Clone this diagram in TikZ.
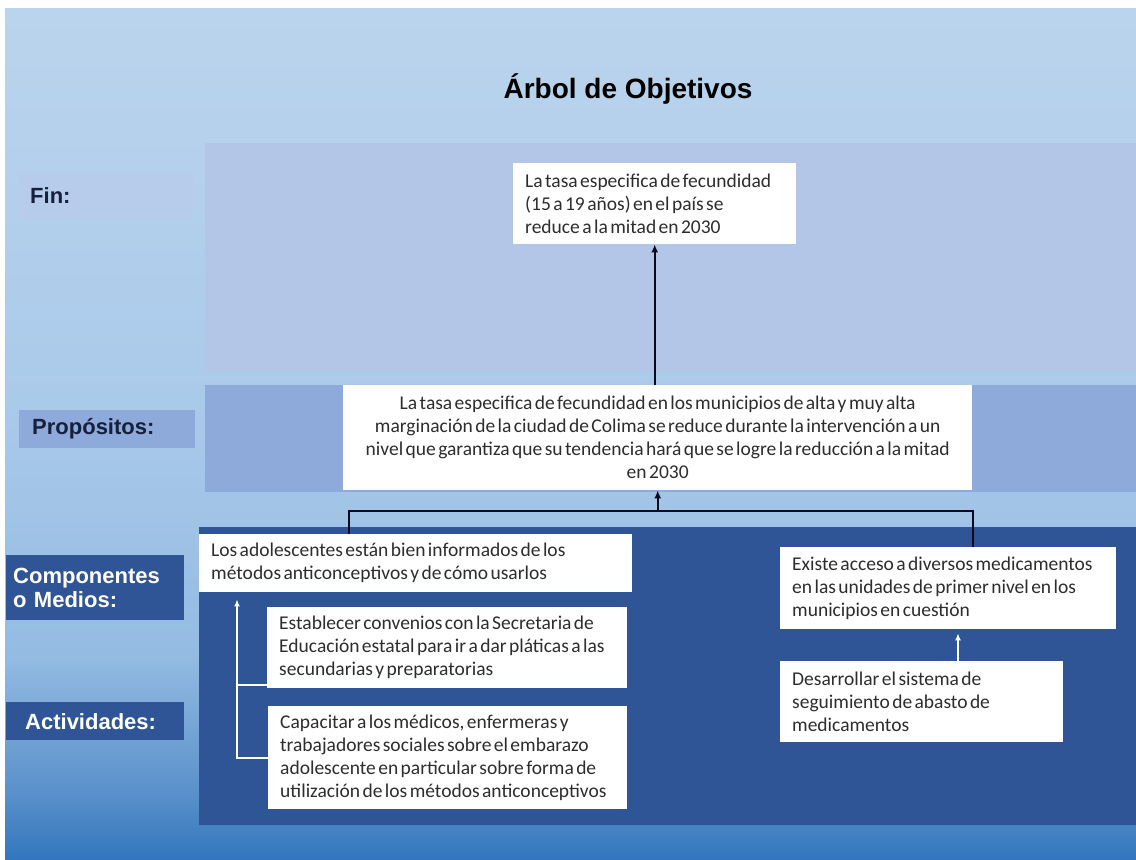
\documentclass[tikz,border=0pt]{standalone}
\usepackage{fontspec}
\setmainfont{Carlito}[WordSpace=0.55]
\newfontfamily\lblfont{Liberation Sans}
\usetikzlibrary{arrows.meta,calc}
\definecolor{bgA}{RGB}{187,212,237}
\definecolor{bgA2}{RGB}{170,202,234}
\definecolor{bgB}{RGB}{148,187,226}
\definecolor{bgC}{RGB}{90,145,203}
\definecolor{bgD}{RGB}{50,118,188}
\definecolor{finband}{RGB}{180,198,231}
\definecolor{propband}{RGB}{142,170,219}
\definecolor{darkband}{RGB}{47,85,151}
\definecolor{boxtext}{RGB}{45,45,45}
\definecolor{lblnavy}{RGB}{22,32,60}
\definecolor{connblack}{RGB}{10,10,30}
\pgfdeclareverticalshading{bgshade}{100bp}{color(0bp)=(bgD); color(25bp)=(bgD); color(29bp)=(bgC); color(37bp)=(bgB); color(52bp)=(bgA2); color(75bp)=(bgA); color(100bp)=(bgA)}
\tikzset{
  wbox/.style={fill=white, draw=none, inner sep=0pt, anchor=north west},
  txt/.style={inner sep=0pt, anchor=west, align=left,
    font=\fontsize{19.5}{23}\selectfont, text=boxtext},
  lbl/.style={draw=none, inner xsep=0pt, inner ysep=0pt, anchor=north west, align=left,
    font=\lblfont\bfseries\fontsize{22}{24}\selectfont},
  bconn/.style={draw=connblack, line width=2.3pt},
  wconn/.style={draw=white, line width=2pt},
  barrow/.style={-{Latex[length=8pt,width=7pt]}},
  warrow/.style={-{Latex[length=7pt,width=6pt]}},
}
\begin{document}
\begin{tikzpicture}[x=1pt,y=-1pt]
\useasboundingbox (0,0) rectangle (1136,860);
\fill[white] (0,0) rectangle (1136,860);
\shade[shading=bgshade] (5,8) rectangle (1136,860);
% bands
\fill[finband] (205,143) rectangle (1136,372);
\fill[propband] (205,385) rectangle (1136,492);
\fill[darkband] (199,527) rectangle (1136,825);
% title
\node[font=\lblfont\bfseries\fontsize{28}{32}\selectfont, text=black] (title) at (628,89) {Árbol de Objetivos};
% row labels
\node[lbl, fill=finband!55!bgA, minimum width=176pt, minimum height=46pt, text width=176pt, text=lblnavy] (lfin) at (17,172) {\hspace*{13pt}Fin:};
\node[lbl, fill=propband, minimum width=176pt, minimum height=38pt, text width=176pt, text=lblnavy] (lprop) at (19,410) {\hspace*{13pt}Propósitos:};
\node[lbl, fill=darkband, minimum width=178pt, minimum height=65pt, text width=178pt, text=white] (lcomp) at (6,555) {\hspace*{7pt}Componentes\\\hspace*{7pt}o Medios:};
\node[lbl, fill=darkband, minimum width=178pt, minimum height=38pt, text width=178pt, text=white] (lact) at (6,702) {\hspace*{19pt}Actividades:};
% boxes
\node[wbox, minimum width=283pt, minimum height=81pt] (fin) at (513,163) {};
\node[txt] (tfin) at ($(fin.west)+(12,0)$)
  {La tasa especifica de fecundidad\\(15 a 19 años) en el país se\\reduce a la mitad en 2030};
\node[wbox, minimum width=629pt, minimum height=105pt] (prop) at (343,385) {};
\node[txt, anchor=center, align=center] (tprop) at (prop.center)
  {La tasa especifica de fecundidad en los municipios de alta y muy alta\\marginación de la ciudad de Colima se reduce durante la intervención a un\\nivel que garantiza que su tendencia hará que se logre la reducción a la mitad\\en 2030};
\node[wbox, minimum width=433pt, minimum height=58pt] (comp1) at (199,534) {};
\node[txt] (tcomp1) at ($(comp1.west)+(12,0)$)
  {Los adolescentes están bien informados de los\\métodos anticonceptivos y de cómo usarlos};
\node[wbox, minimum width=360pt, minimum height=81pt] (act1) at (267,607) {};
\node[txt] (tact1) at ($(act1.west)+(12,0)$)
  {Establecer convenios con la Secretaria de\\Educación estatal para ir a dar pláticas a las\\secundarias y preparatorias};
\node[wbox, minimum width=359pt, minimum height=103pt] (act2) at (268,706) {};
\node[txt] (tact2) at ($(act2.west)+(12,0)$)
  {Capacitar a los médicos, enfermeras y\\trabajadores sociales sobre el embarazo\\adolescente en particular sobre forma de\\utilización de los métodos anticonceptivos};
\node[wbox, minimum width=336pt, minimum height=82pt] (comp2) at (780,547) {};
\node[txt] (tcomp2) at ($(comp2.west)+(12,0)$)
  {Existe acceso a diversos medicamentos\\en las unidades de primer nivel en los\\municipios en cuestión};
\node[wbox, minimum width=283pt, minimum height=81pt] (act3) at (780,661) {};
\node[txt] (tact3) at ($(act3.west)+(12,0)$)
  {Desarrollar el sistema de\\seguimiento de abasto de\\medicamentos};
% black connectors
\draw[bconn, barrow] (fin.south |- prop.north) -- (fin.south);
\coordinate (jl) at (349,511);
\coordinate (jr) at (973,511);
\draw[bconn] (comp1.north -| jl) -- (jl) -- (jr) -- (comp2.north -| jr);
\draw[bconn, barrow] (prop.south |- jl) -- (prop.south);
% white connectors
\coordinate (wl) at (237,685);
\draw[wconn, warrow, shorten >=7pt] (act2.west) -| (comp1.south -| wl);
\draw[wconn] (act1.west |- wl) -- (wl);
\draw[wconn, warrow, shorten >=4pt] (act3.north -| 958,0) -- (comp2.south -| 958,0);
\end{tikzpicture}
\end{document}
